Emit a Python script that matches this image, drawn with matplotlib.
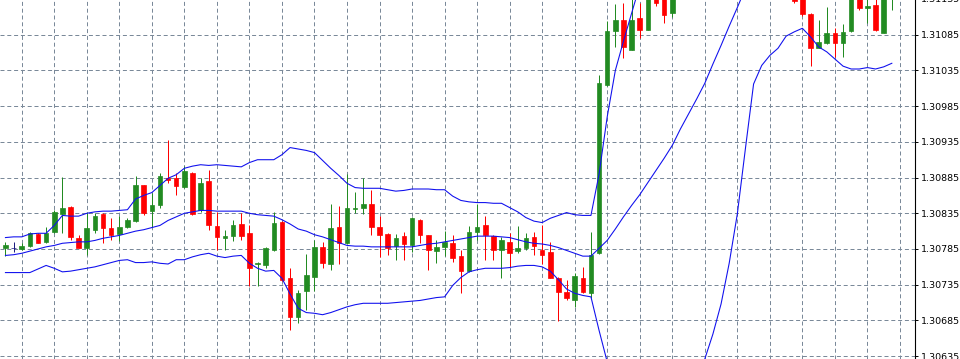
import matplotlib
matplotlib.use("Agg")
import matplotlib.pyplot as plt
import numpy as np

# EURUSD-style candles (one per bar)
opens = [1.30786, 1.30787, 1.30785, 1.30789, 1.30806, 1.30795, 1.30809, 1.30834, 1.30844, 1.30800,
         1.30787, 1.30812, 1.30834, 1.30815, 1.30806, 1.30816, 1.30824, 1.30874, 1.30838, 1.30846,
         1.30885, 1.30885, 1.30872, 1.30892, 1.30839, 1.30880, 1.30817, 1.30801, 1.30803, 1.30820,
         1.30807, 1.30764, 1.30762, 1.30784, 1.30823, 1.30745, 1.30690, 1.30726, 1.30746, 1.30788,
         1.30764, 1.30816, 1.30794, 1.30841, 1.30842, 1.30848, 1.30816, 1.30806, 1.30789, 1.30803,
         1.30790, 1.30826, 1.30804, 1.30782, 1.30788, 1.30793, 1.30775, 1.30754, 1.30809, 1.30818,
         1.30803, 1.30783, 1.30795, 1.30782, 1.30787, 1.30802, 1.30784, 1.30781, 1.30745, 1.30725,
         1.30714, 1.30745, 1.30724, 1.30779, 1.31014, 1.31090, 1.31105, 1.31064, 1.31108, 1.31092,
         1.31139, 1.31150, 1.31115, 1.31160, 1.31190, 1.31230, 1.31260, 1.31280, 1.31270, 1.31305,
         1.31290, 1.31260, 1.31240, 1.31220, 1.31200, 1.31185, 1.31170, 1.31165, 1.31150, 1.31114,
         1.31067, 1.31073, 1.31087, 1.31074, 1.31090, 1.31145, 1.31122, 1.31126, 1.31088, 1.31140]
highs = [1.30795, 1.30795, 1.30793, 1.30809, 1.30807, 1.30816, 1.30840, 1.30886, 1.30845, 1.30804,
         1.30837, 1.30835, 1.30835, 1.30828, 1.30831, 1.30828, 1.30887, 1.30875, 1.30863, 1.30891,
         1.30937, 1.30891, 1.30901, 1.30893, 1.30884, 1.30895, 1.30837, 1.30811, 1.30826, 1.30835,
         1.30818, 1.30767, 1.30788, 1.30837, 1.30824, 1.30758, 1.30728, 1.30778, 1.30797, 1.30795,
         1.30848, 1.30845, 1.30890, 1.30865, 1.30884, 1.30867, 1.30831, 1.30807, 1.30806, 1.30809,
         1.30830, 1.30827, 1.30805, 1.30797, 1.30810, 1.30804, 1.30784, 1.30817, 1.30848, 1.30831,
         1.30804, 1.30802, 1.30807, 1.30817, 1.30807, 1.30809, 1.30818, 1.30795, 1.30746, 1.30742,
         1.30751, 1.30760, 1.30809, 1.31028, 1.31104, 1.31128, 1.31129, 1.31136, 1.31129, 1.31150,
         1.31160, 1.31165, 1.31172, 1.31200, 1.31240, 1.31270, 1.31300, 1.31310, 1.31320, 1.31330,
         1.31300, 1.31280, 1.31260, 1.31240, 1.31220, 1.31200, 1.31185, 1.31175, 1.31160, 1.31115,
         1.31106, 1.31124, 1.31094, 1.31100, 1.31160, 1.31150, 1.31140, 1.31140, 1.31160, 1.31170]
lows = [1.30775, 1.30781, 1.30783, 1.30788, 1.30793, 1.30794, 1.30808, 1.30808, 1.30798, 1.30786,
        1.30776, 1.30807, 1.30794, 1.30797, 1.30796, 1.30815, 1.30823, 1.30833, 1.30816, 1.30842,
        1.30877, 1.30860, 1.30871, 1.30832, 1.30837, 1.30812, 1.30783, 1.30784, 1.30796, 1.30797,
        1.30733, 1.30733, 1.30758, 1.30782, 1.30740, 1.30672, 1.30682, 1.30699, 1.30726, 1.30758,
        1.30756, 1.30764, 1.30792, 1.30835, 1.30834, 1.30804, 1.30774, 1.30776, 1.30769, 1.30769,
        1.30781, 1.30794, 1.30755, 1.30766, 1.30775, 1.30767, 1.30724, 1.30753, 1.30797, 1.30769,
        1.30769, 1.30744, 1.30760, 1.30779, 1.30784, 1.30776, 1.30764, 1.30744, 1.30684, 1.30713,
        1.30704, 1.30724, 1.30717, 1.30778, 1.31013, 1.31068, 1.31052, 1.31063, 1.31081, 1.31091,
        1.31125, 1.31102, 1.31110, 1.31150, 1.31180, 1.31210, 1.31240, 1.31255, 1.31260, 1.31280,
        1.31250, 1.31230, 1.31210, 1.31190, 1.31175, 1.31160, 1.31150, 1.31130, 1.31111, 1.31041,
        1.31066, 1.31072, 1.31054, 1.31054, 1.31089, 1.31120, 1.31101, 1.31090, 1.31087, 1.31119]
closes = [1.30790, 1.30787, 1.30789, 1.30807, 1.30794, 1.30807, 1.30837, 1.30843, 1.30802, 1.30787,
          1.30814, 1.30831, 1.30814, 1.30804, 1.30816, 1.30826, 1.30874, 1.30836, 1.30846, 1.30887,
          1.30882, 1.30873, 1.30894, 1.30834, 1.30878, 1.30818, 1.30802, 1.30803, 1.30818, 1.30803,
          1.30758, 1.30766, 1.30787, 1.30822, 1.30741, 1.30690, 1.30724, 1.30748, 1.30788, 1.30766,
          1.30815, 1.30793, 1.30843, 1.30843, 1.30848, 1.30816, 1.30804, 1.30786, 1.30801, 1.30792,
          1.30828, 1.30804, 1.30784, 1.30788, 1.30795, 1.30772, 1.30754, 1.30809, 1.30816, 1.30804,
          1.30783, 1.30797, 1.30780, 1.30787, 1.30800, 1.30789, 1.30776, 1.30745, 1.30725, 1.30716,
          1.30747, 1.30725, 1.30776, 1.31018, 1.31090, 1.31106, 1.31068, 1.31106, 1.31091, 1.31142,
          1.31129, 1.31112, 1.31160, 1.31190, 1.31230, 1.31260, 1.31280, 1.31270, 1.31305, 1.31290,
          1.31260, 1.31240, 1.31220, 1.31200, 1.31185, 1.31170, 1.31165, 1.31132, 1.31114, 1.31066,
          1.31075, 1.31088, 1.31074, 1.31089, 1.31150, 1.31122, 1.31125, 1.31091, 1.31150, 1.31160]

# Bollinger bands, one value per bar (until the line leaves the chart)
bb_upper = [1.30801, 1.30802, 1.30802, 1.30806, 1.30807, 1.30807, 1.30818, 1.30832, 1.30831, 1.30831,
            1.30835, 1.30837, 1.30838, 1.30838, 1.30839, 1.30840, 1.30855, 1.30860, 1.30864, 1.30874,
            1.30884, 1.30889, 1.30898, 1.30901, 1.30903, 1.30902, 1.30903, 1.30902, 1.30901, 1.30900,
            1.30906, 1.30910, 1.30910, 1.30910, 1.30917, 1.30927, 1.30925, 1.30923, 1.30920, 1.30909,
            1.30898, 1.30888, 1.30877, 1.30871, 1.30870, 1.30870, 1.30870, 1.30868, 1.30866, 1.30867,
            1.30869, 1.30869, 1.30869, 1.30868, 1.30868, 1.30859, 1.30853, 1.30851, 1.30850, 1.30850,
            1.30849, 1.30849, 1.30843, 1.30837, 1.30829, 1.30824, 1.30822, 1.30828, 1.30832, 1.30836,
            1.30833, 1.30832, 1.30832, 1.30890, 1.30970, 1.31035, 1.31076, 1.31115, 1.31154, 1.31189]
bb_middle = [1.30776, 1.30777, 1.30779, 1.30782, 1.30785, 1.30788, 1.30790, 1.30793, 1.30794, 1.30795,
             1.30795, 1.30797, 1.30800, 1.30802, 1.30804, 1.30807, 1.30810, 1.30812, 1.30815, 1.30818,
             1.30825, 1.30830, 1.30835, 1.30837, 1.30839, 1.30839, 1.30838, 1.30838, 1.30838, 1.30838,
             1.30835, 1.30833, 1.30832, 1.30831, 1.30826, 1.30820, 1.30813, 1.30810, 1.30805, 1.30802,
             1.30798, 1.30794, 1.30790, 1.30789, 1.30789, 1.30788, 1.30788, 1.30788, 1.30788, 1.30788,
             1.30788, 1.30790, 1.30792, 1.30793, 1.30795, 1.30797, 1.30799, 1.30801, 1.30803, 1.30803,
             1.30803, 1.30802, 1.30801, 1.30798, 1.30795, 1.30793, 1.30792, 1.30790, 1.30787, 1.30783,
             1.30779, 1.30775, 1.30775, 1.30786, 1.30797, 1.30813, 1.30830, 1.30846, 1.30861, 1.30878,
             1.30895, 1.30912, 1.30930, 1.30953, 1.30974, 1.30995, 1.31017, 1.31044, 1.31070, 1.31097,
             1.31123, 1.31150, 1.31177]
bb_lower = [1.30752, 1.30752, 1.30752, 1.30752, 1.30757, 1.30762, 1.30758, 1.30753, 1.30754, 1.30756,
            1.30758, 1.30760, 1.30763, 1.30766, 1.30769, 1.30770, 1.30766, 1.30766, 1.30767, 1.30765,
            1.30764, 1.30770, 1.30770, 1.30774, 1.30777, 1.30779, 1.30775, 1.30773, 1.30775, 1.30776,
            1.30765, 1.30758, 1.30754, 1.30755, 1.30744, 1.30722, 1.30702, 1.30696, 1.30695, 1.30693,
            1.30696, 1.30700, 1.30704, 1.30707, 1.30709, 1.30709, 1.30709, 1.30709, 1.30710, 1.30711,
            1.30712, 1.30713, 1.30715, 1.30717, 1.30718, 1.30734, 1.30745, 1.30753, 1.30756, 1.30758,
            1.30758, 1.30758, 1.30759, 1.30761, 1.30762, 1.30762, 1.30760, 1.30754, 1.30742, 1.30729,
            1.30723, 1.30720, 1.30718, 1.30671, 1.30627, 1.30594, 1.30576, 1.30566, 1.30559, 1.30557,
            1.30557, 1.30559, 1.30565, 1.30573, 1.30585, 1.30599, 1.30631, 1.30666, 1.30708, 1.30765,
            1.30834, 1.30926, 1.31016, 1.31042, 1.31056, 1.31066, 1.31083, 1.31089, 1.31094, 1.31082,
            1.31068, 1.31061, 1.31051, 1.31041, 1.31037, 1.31037, 1.31039, 1.31037, 1.31040, 1.31045]

price_ticks = [1.30635, 1.30685, 1.30735, 1.30785, 1.30835, 1.30885,
               1.30935, 1.30985, 1.31035, 1.31085, 1.31135]

UP = '#228b22'
DOWN = '#ff0000'
DOJI = '#1c1c80'
BAND = '#1010ee'
GRID = '#7a8999'

o = np.array(opens)
h = np.array(highs)
l = np.array(lows)
c = np.array(closes)
idx = np.arange(len(o))
colors = [UP if cc > oo else (DOWN if cc < oo else DOJI) for oo, cc in zip(o, c)]

fig = plt.figure(figsize=(9.6, 3.59), dpi=100)
# axes pushed one pixel over the top so the 1.31135 label is half cut, as in MT4
ax = fig.add_axes([0, 0, 915 / 960, 360 / 359])

# wicks and bodies
ax.vlines(idx, l, h, colors=colors, linewidth=0.72, zorder=2)
ax.bar(idx, np.abs(c - o), bottom=np.minimum(o, c), width=0.56,
       color=colors, edgecolor=colors, linewidth=0.5, zorder=3)

for band in (bb_upper, bb_middle, bb_lower):
    ax.plot(np.arange(len(band)), band, color=BAND, linewidth=0.78, zorder=4)

ax.set_xlim(-0.67, 111.85)
ax.set_ylim(1.30631, 1.31135)

# grid every 4 bars and every 50 points
ax.set_xticks(np.arange(2, 111, 4))
ax.tick_params(axis='x', length=0, labelbottom=False)
ax.set_yticks(price_ticks)
ax.set_yticklabels([f'{v:.5f}' for v in price_ticks])
ax.yaxis.tick_right()
ax.tick_params(axis='y', direction='out', length=2.2, width=0.7, pad=2,
               labelsize=6.8, colors='black')
ax.grid(True, color=GRID, linestyle=(0, (4, 2.8)), linewidth=0.72, zorder=0)
ax.set_axisbelow(True)

for side in ('top', 'bottom', 'left'):
    ax.spines[side].set_visible(False)
ax.spines['right'].set_color('black')
ax.spines['right'].set_linewidth(0.8)

fig.savefig('out.png', dpi=100)
